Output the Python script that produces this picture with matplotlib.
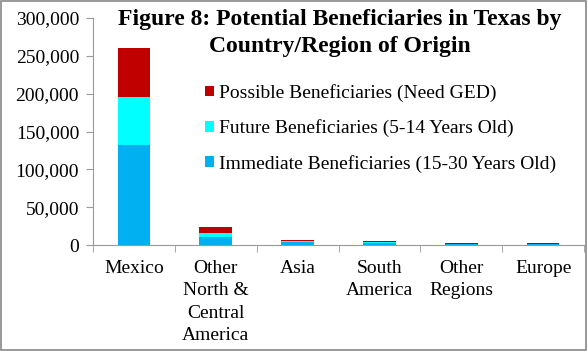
import matplotlib.pyplot as plt
from matplotlib.patches import Rectangle
import numpy as np

regions = ['Mexico', 'Other\nNorth &\nCentral\nAmerica', 'Asia', 'South\nAmerica',
           'Other\nRegions', 'Europe']
immediate = [132000, 11000, 3500, 2500, 800, 800]
future = [63000, 5500, 2000, 1200, 400, 400]
possible = [66000, 7000, 1200, 1200, 1300, 1300]
y_ticks = [0, 50000, 100000, 150000, 200000, 250000, 300000]

plt.rcParams['font.family'] = ['Liberation Serif', 'DejaVu Serif']

fig = plt.figure(figsize=(5.88, 3.51), dpi=100)
ax = fig.add_axes([93 / 588, 1 - 245 / 351, 491 / 588, 227 / 351])

x = np.arange(len(regions))
immediate = np.array(immediate)
future = np.array(future)
possible = np.array(possible)

b1 = ax.bar(x, immediate, width=0.4, color='#00B0F0',
            label='Immediate Beneficiaries (15-30 Years Old)')
b2 = ax.bar(x, future, width=0.4, bottom=immediate, color='#00FFFF',
            label='Future Beneficiaries (5-14 Years Old)')
b3 = ax.bar(x, possible, width=0.4, bottom=immediate + future, color='#C00000',
            label='Possible Beneficiaries (Need GED)')

ax.set_xlim(-0.5, 5.5)
ax.set_ylim(0, 300000)
ax.set_yticks(y_ticks)
ax.set_yticklabels([f'{v:,}' for v in y_ticks], fontsize=14)
ax.set_xticks(x)
ax.set_xticklabels(regions, fontsize=14, linespacing=1.4, va='top')
ax.set_xticks(np.arange(-0.5, 6.0, 1), minor=True)
ax.tick_params(axis='x', which='major', length=0, pad=11)
ax.tick_params(axis='x', which='minor', length=5, color='#999999')
ax.tick_params(axis='y', length=5, color='#999999', pad=5)

for side in ['top', 'right']:
    ax.spines[side].set_visible(False)
for side in ['left', 'bottom']:
    ax.spines[side].set_color('#999999')

ax.legend(handles=[b3, b2, b1], loc='upper left', bbox_to_anchor=(201 / 588, 1 - 80 / 351),
          bbox_transform=fig.transFigure, frameon=False, fontsize=14,
          handlelength=0.45, handleheight=0.45, handletextpad=0.3, labelspacing=0.9,
          borderaxespad=0, borderpad=0.2)

fig.text(340 / 588, 1 - 33 / 351, 'Figure 8: Potential Beneficiaries in Texas by\nCountry/Region of Origin',
         ha='center', va='center', fontsize=17, fontweight='bold', linespacing=1.35)

# grey frame around the chart
fig.patches.append(Rectangle((0.002, 0.003), 0.995, 0.994, transform=fig.transFigure,
                             fill=False, edgecolor='#888888', linewidth=1.2))

fig.savefig('out.png', dpi=100)
